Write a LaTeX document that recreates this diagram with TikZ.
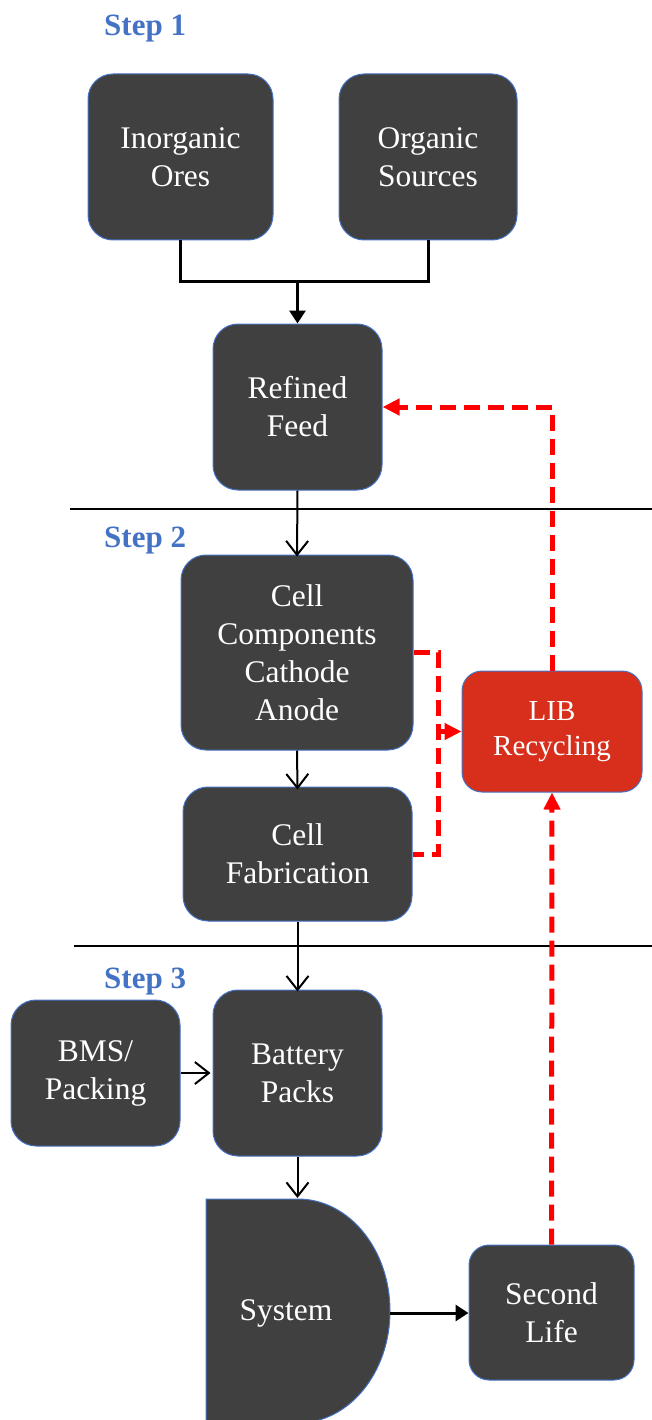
\documentclass[tikz,border=0pt]{standalone}
\usepackage{fontspec}
\setmainfont{Liberation Serif}
\usetikzlibrary{arrows.meta}
\definecolor{boxfill}{RGB}{64,64,64}
\definecolor{boxline}{RGB}{68,114,196}
\definecolor{stepblue}{RGB}{68,114,196}
\definecolor{libred}{RGB}{216,46,28}
\definecolor{dashred}{RGB}{255,0,0}
\tikzset{
  box/.style={draw=boxline, line width=1pt, fill=boxfill, rounded corners=25pt,
    text=white, align=center, inner sep=0pt,
    font=\fontsize{31.5}{38}\selectfont},
  libbox/.style={box, fill=libred, rounded corners=20pt, font=\fontsize{29}{35}\selectfont},
  steplabel/.style={anchor=base west, text=stepblue, inner sep=0pt,
    font=\fontsize{31}{36}\selectfont\bfseries},
  thinarrow/.style={line width=2pt, -{Straight Barb[length=14pt,width=22pt,line width=2pt]}},
  thickline/.style={line width=3pt},
  thickarrow/.style={line width=3pt, -{Triangle[length=13pt,width=16pt]}},
  reddash/.style={draw=dashred, line width=5pt, dash pattern=on 16pt off 8pt},
  redarrow/.style={reddash, -{Triangle[length=17pt,width=16pt]}, color=dashred},
  sepline/.style={line width=2pt},
}
\begin{document}
\begin{tikzpicture}[x=1pt,y=-1pt]
\useasboundingbox (0,0) rectangle (652,1420);
% step labels
\node[steplabel] (s1) at (104,36) {Step 1};
\node[steplabel] (s2) at (104,547) {Step 2};
\node[steplabel] (s3) at (104,988) {Step 3};
% separator lines
\draw[sepline] (70,509) -- (652,509);
\draw[sepline] (74,946) -- (652,946);
% nodes
\node[box, minimum width=185pt, minimum height=166pt] (ino) at (180.5,157) {Inorganic\\Ores};
\node[box, minimum width=178pt, minimum height=166pt] (org) at (428,157) {Organic\\Sources};
\node[box, minimum width=169pt, minimum height=166pt] (ref) at (297.5,407) {Refined\\Feed};
\node[box, minimum width=232pt, minimum height=195pt] (comp) at (297,652.5) {Cell\\Components\\Cathode\\Anode};
\node[box, minimum width=229pt, minimum height=134pt] (fab) at (297.5,854) {Cell\\Fabrication};
\node[libbox, minimum width=180pt, minimum height=121pt] (lib) at (552,731.5) {LIB\\Recycling};
\node[box, minimum width=169pt, minimum height=146pt] (bms) at (95.5,1073) {BMS/\\Packing};
\node[box, minimum width=169pt, minimum height=166pt] (bat) at (297.5,1073) {Battery\\Packs};
\node[box, rounded corners=20pt, minimum width=165pt, minimum height=135pt] (sec) at (551.5,1312.5) {Second\\Life};
% System D shape
\draw[draw=boxline, line width=1pt, fill=boxfill]
  (206,1199) -- (298,1199) arc[start angle=90, end angle=-90, x radius=92pt, y radius=112pt]
  -- (206,1423) -- cycle;
\node[text=white, inner sep=0pt, font=\fontsize{31.5}{38}\selectfont] (sys) at (286,1313) {System};
\coordinate (sysr) at (390,1313);
% black connectors
\coordinate (mg) at (297.5,282);
\draw[thickline] (ino.south) |- (org.south |- mg) -- (org.south);
\draw[thickarrow] (mg) -- (ref.north);
\draw[thinarrow] (ref.south) -- ([yshift=-2pt]comp.north);
\draw[thinarrow] (comp.south) -- ([yshift=-3pt]fab.north);
\draw[thinarrow] (fab.south) -- ([yshift=-2pt]bat.north);
\draw[thinarrow] (bms.east) -- ([xshift=-2pt]bat.west);
\draw[thinarrow] (bat.south) -- (297.5,1198);
\draw[thickarrow] (sysr) -- (sec.west |- sysr);
% red dashed connectors
\coordinate (xc) at (438,700);
\draw[reddash] (comp.east) -- (comp.east -| xc) -- (fab.east -| xc) -- (fab.east);
\draw[redarrow] (xc |- lib.west) -- (lib.west);
\draw[redarrow] (lib.north) |- (ref.east);
\draw[redarrow] (sec.north) -- (lib.south);
\end{tikzpicture}
\end{document}
